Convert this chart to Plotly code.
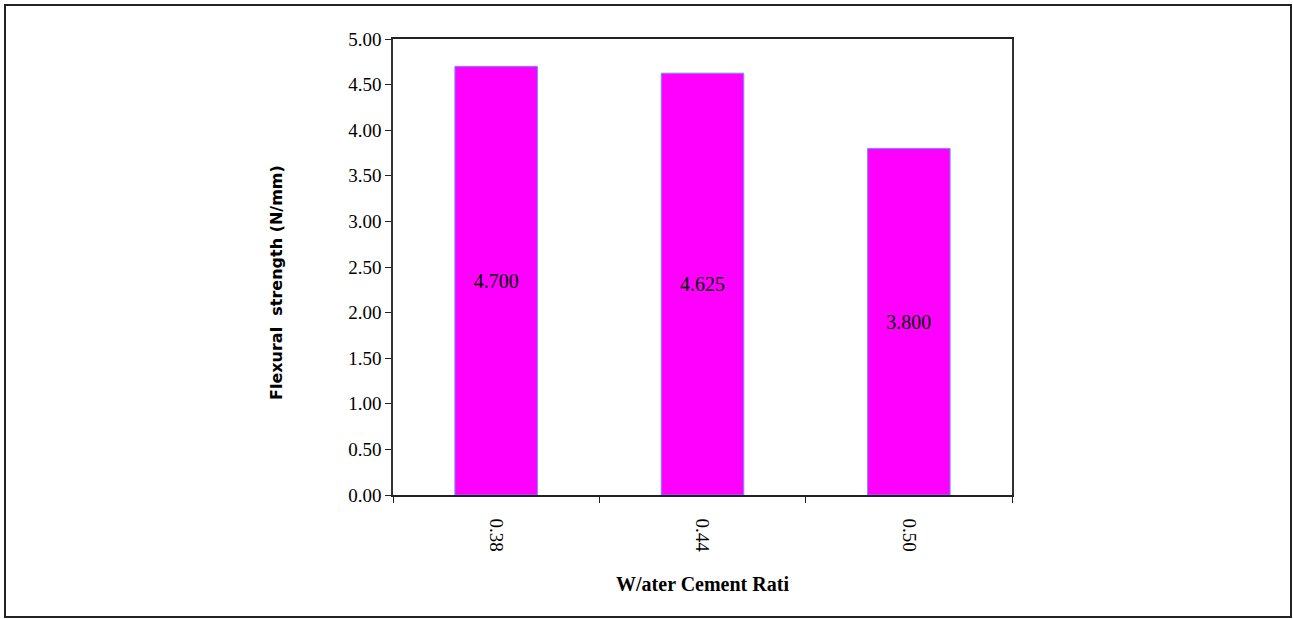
import plotly.graph_objects as go

categories = ["0.38", "0.44", "0.50"]
values = [4.700, 4.625, 3.800]
value_labels = ["4.700", "4.625", "3.800"]
y_ticks = [0, 0.5, 1.0, 1.5, 2.0, 2.5, 3.0, 3.5, 4.0, 4.5, 5.0]
y_tick_labels = ["0.00", "0.50", "1.00", "1.50", "2.00", "2.50", "3.00", "3.50", "4.00", "4.50", "5.00"]

W, H = 1293, 619
L, R, T, B = 393, 281, 39, 124
pw, ph = W - L - R, H - T - B

fig = go.Figure()
fig.add_trace(go.Bar(
    x=categories, y=values, width=0.4,
    marker=dict(color="#FF00FF", line=dict(color="#6F8FFF", width=1)),
    text=value_labels, textposition="inside", insidetextanchor="middle",
    textangle=0,
    textfont=dict(family="Liberation Serif", size=20, color="black"),
))

serif = "Liberation Serif"
fig.update_layout(
    width=W, height=H,
    margin=dict(l=L, r=R, t=T, b=B, pad=0),
    paper_bgcolor="white", plot_bgcolor="white",
    showlegend=False,
    font=dict(family=serif, size=16, color="black"),
    xaxis=dict(
        type="category", tickson="boundaries", ticks="outside", ticklen=6,
        tickcolor="#222", tickangle=90, tickfont=dict(family=serif, size=19),
        ticklabelstandoff=18,
        showline=True, linecolor="#222", linewidth=1.5, mirror=True,
        showgrid=False, range=[-0.5, 2.5],
        title=dict(text="<b>W/ater Cement Rati</b>", font=dict(family=serif, size=20), standoff=26),
    ),
    yaxis=dict(
        range=[0, 5], tickvals=y_ticks, ticktext=y_tick_labels,
        ticks="outside", ticklen=6, tickcolor="#222",
        tickfont=dict(family=serif, size=19),
        showline=True, linecolor="#333", linewidth=1.5, mirror=True,
        showgrid=False, zeroline=False,
    ),
)

# y-axis title placed as annotation (sits slightly below plot centre in the reference)
fig.add_annotation(
    text="<b>Flexural  strength (N/mm)</b>", textangle=-90, showarrow=False,
    xref="paper", yref="paper", x=(276 - L) / pw, y=(H - B - 283) / ph,
    xanchor="center", yanchor="middle",
    font=dict(family="DejaVu Sans", size=16, color="black"),
)

# outer frame around the whole picture
x0 = (5 - L) / pw
x1 = (1291 - L) / pw
y1 = (H - B - 5) / ph
y0 = (H - B - 617) / ph
fig.add_shape(type="rect", xref="paper", yref="paper", x0=x0, x1=x1, y0=y0, y1=y1,
              line=dict(color="#222", width=2), layer="below")

fig.write_html("out.html", config={"displayModeBar": False},
               post_script="document.body.style.margin='0';document.body.style.overflow='hidden';")
